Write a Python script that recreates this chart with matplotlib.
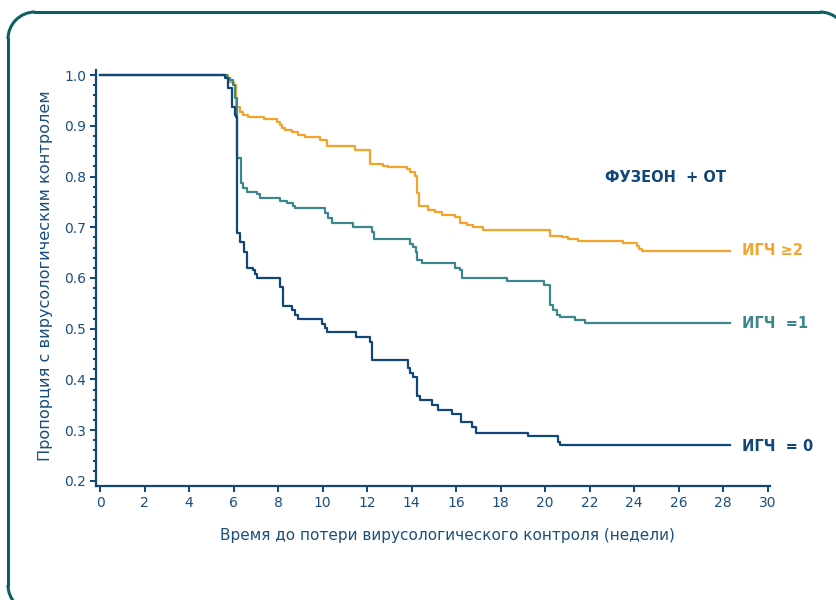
import numpy as np
import matplotlib.pyplot as plt
from matplotlib.patches import Arc
from matplotlib.lines import Line2D

plt.rcParams['font.family'] = ['DejaVu Sans']

# время событий (недели) и доля с вирусологическим контролем после события
t_igch2 = [5.75, 6.02, 6.11, 6.29, 6.42, 6.65, 7.36, 7.95, 8.08, 8.17, 8.31, 8.62,
           8.89, 9.21, 9.88, 10.19, 11.45, 12.12, 12.71, 12.93, 13.79, 13.92, 14.14,
           14.23, 14.32, 14.73, 15.04, 15.36, 15.94, 16.17, 16.48, 16.75, 17.20,
           20.21, 20.75, 21.01, 21.46, 23.48, 24.11, 24.20, 24.34]
s_igch2 = [0.986, 0.980, 0.937, 0.927, 0.921, 0.917, 0.913, 0.907, 0.901, 0.896, 0.892, 0.888,
           0.882, 0.878, 0.872, 0.860, 0.852, 0.825, 0.821, 0.819, 0.815, 0.809, 0.801,
           0.767, 0.742, 0.734, 0.730, 0.724, 0.720, 0.708, 0.704, 0.700, 0.695,
           0.683, 0.681, 0.677, 0.673, 0.669, 0.663, 0.657, 0.653]

t_igch1 = [5.70, 5.84, 5.97, 6.06, 6.15, 6.33, 6.42, 6.60, 7.05, 7.18, 8.08, 8.40,
           8.67, 8.76, 10.10, 10.24, 10.42, 11.36, 12.21, 12.30, 13.92, 14.05, 14.19,
           14.23, 14.46, 15.94, 16.17, 16.26, 18.28, 19.94, 20.21, 20.34, 20.52,
           20.66, 21.33, 21.78]
s_igch1 = [0.994, 0.990, 0.980, 0.955, 0.836, 0.787, 0.777, 0.769, 0.766, 0.758, 0.752, 0.748,
           0.742, 0.738, 0.728, 0.718, 0.708, 0.700, 0.691, 0.677, 0.667, 0.661, 0.651,
           0.635, 0.630, 0.620, 0.616, 0.600, 0.594, 0.586, 0.547, 0.537, 0.527,
           0.523, 0.517, 0.511]

t_igch0 = [5.61, 5.75, 5.93, 6.06, 6.11, 6.15, 6.29, 6.47, 6.60, 6.87, 6.96, 7.05,
           8.08, 8.22, 8.62, 8.76, 8.89, 9.97, 10.10, 10.19, 11.50, 12.12, 12.21,
           13.83, 13.92, 14.05, 14.23, 14.37, 14.91, 15.18, 15.81, 16.21, 16.70,
           16.88, 19.22, 20.57, 20.66]
s_igch0 = [0.994, 0.974, 0.937, 0.921, 0.917, 0.689, 0.671, 0.651, 0.620, 0.616, 0.608, 0.600,
           0.582, 0.545, 0.537, 0.527, 0.519, 0.509, 0.501, 0.494, 0.484, 0.474, 0.438,
           0.423, 0.413, 0.405, 0.367, 0.360, 0.350, 0.340, 0.332, 0.316, 0.306,
           0.295, 0.289, 0.277, 0.271]

t_end = 28.29

navy = '#114679'
teal = '#3c878c'
orange = '#f5a32b'
frame = '#0e5f64'
txt = '#1b4e7e'

W, H = 837, 600
fig = plt.figure(figsize=(W / 100, H / 100), dpi=100)

# рамка со скруглёнными углами (пиксели от верхнего левого угла)
r = 27
left, top, right, bottom = 8, 12, 847, 612

def fx(px):
    return px / W

def fy(py):
    return 1 - py / H

def edge(x0, y0, x1, y1):
    fig.add_artist(Line2D([fx(x0), fx(x1)], [fy(y0), fy(y1)],
                          transform=fig.transFigure, color=frame, lw=2.2))

def corner(cx, cy, a0, a1):
    fig.add_artist(Arc((fx(cx), fy(cy)), 2 * r / W, 2 * r / H, theta1=a0, theta2=a1,
                       transform=fig.transFigure, color=frame, lw=2.2))

edge(left, top + r, left, bottom - r)
edge(left + r, top, right - r, top)
corner(left + r, top + r, 90, 180)
corner(right - r, top + r, 0, 90)
corner(left + r, bottom - r, 180, 270)

ax = fig.add_axes([96 / W, 114 / H, 674 / W, 416 / H])
ax.patch.set_alpha(0)

def curve(t, s, c):
    x = [0] + t + [t_end]
    y = [1.0] + s + [s[-1]]
    ax.step(x, y, where='post', color=c, lw=1.6, zorder=3)

curve(t_igch2, s_igch2, orange)
curve(t_igch1, s_igch1, teal)
curve(t_igch0, s_igch0, navy)

ax.set_xlim(-0.18, 30.1)
ax.set_ylim(0.19, 1.01)
ax.set_xticks(np.arange(0, 31, 2))
ax.set_yticks(np.arange(0.2, 1.01, 0.1))
ax.set_yticks(np.arange(0.2, 1.0, 0.02), minor=True)
ax.set_yticklabels([f'{v:.1f}' for v in np.arange(0.2, 1.01, 0.1)])

for side in ['top', 'right']:
    ax.spines[side].set_visible(False)
for side in ['left', 'bottom']:
    ax.spines[side].set_color(navy)
    ax.spines[side].set_linewidth(1.6)
ax.tick_params(which='major', length=4, width=1.4, color=navy, labelcolor=txt,
               labelsize=10, pad=3)
ax.tick_params(which='minor', length=2.5, width=1.4, color=navy)

ax.set_xlabel('Время до потери вирусологического контроля (недели)', color=txt,
              fontsize=11, labelpad=13, x=0.522)
ax.set_ylabel('Пропорция с вирусологическим контролем', color=txt,
              fontsize=11.6, labelpad=8, y=0.505)

ax.text(22.68, 0.799, 'ФУЗЕОН  + ОТ', color=navy, fontsize=10.5,
        fontweight='bold', va='center', ha='left')
ax.text(28.83, 0.655, 'ИГЧ ≥2', color=orange, fontsize=10.5,
        fontweight='bold', va='center', ha='left', clip_on=False)
ax.text(28.83, 0.511, 'ИГЧ  =1', color=teal, fontsize=10.5,
        fontweight='bold', va='center', ha='left', clip_on=False)
ax.text(28.83, 0.267, 'ИГЧ  = 0', color=navy, fontsize=10.5,
        fontweight='bold', va='center', ha='left', clip_on=False)

fig.savefig('out.png', dpi=100)
